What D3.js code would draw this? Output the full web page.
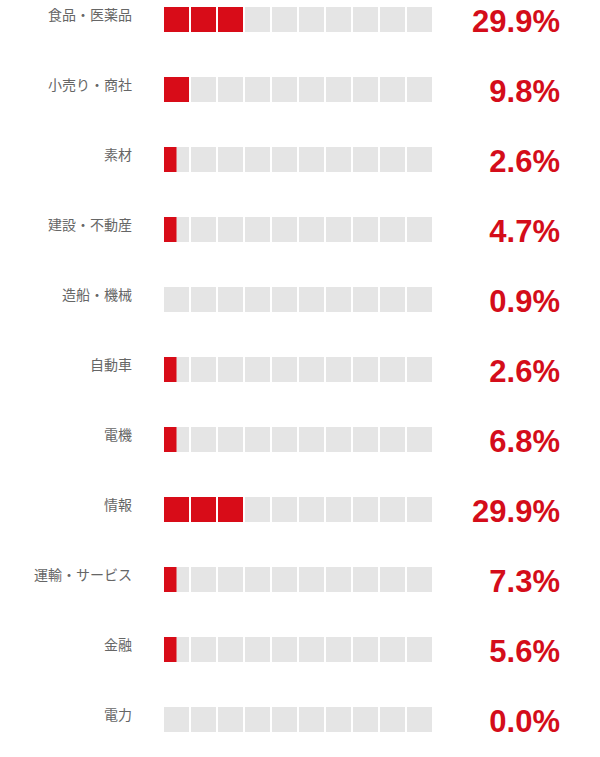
<!DOCTYPE html>
<html><head><meta charset="utf-8">
<script src="https://cdn.jsdelivr.net/npm/d3@7"></script>
<style>body{margin:0;background:#fff}svg{display:block}</style>
</head><body>
<script>
const categories = ["食品・医薬品","小売り・商社","素材","建設・不動産","造船・機械","自動車","電機","情報","運輸・サービス","金融","電力"];
const values = [29.9, 9.8, 2.6, 4.7, 0.9, 2.6, 6.8, 29.9, 7.3, 5.6, 0.0];
const cellCount = 10;   // each cell = 10%
const cellUnit = 10;

const W = 600, H = 757;
const svg = d3.select("body").append("svg").attr("width", W).attr("height", H);

const y = d3.scaleBand().domain(categories)
  .range([7, 7 + 70 * (categories.length - 1) + 25]).paddingInner(45/70).paddingOuter(0);
const x = d3.scaleBand().domain(d3.range(cellCount)).range([164, 432]).paddingInner(2/27).paddingOuter(0);

const rows = svg.selectAll("g.row").data(categories.map((c, i) => ({c, v: values[i]})))
  .enter().append("g").attr("class", "row")
  .attr("transform", d => `translate(0,${y(d.c)})`);

rows.each(function(d) {
  const g = d3.select(this);
  const filled = Math.round(d.v / (cellUnit / 2)) / 2; // in cells, half-cell steps
  d3.range(cellCount).forEach(k => {
    g.append("rect").attr("x", x(k)).attr("y", 0)
      .attr("width", x.bandwidth()).attr("height", y.bandwidth()).attr("fill", "#e5e5e5");
    const f = Math.max(0, Math.min(1, filled - k));
    if (f > 0) {
      g.append("rect").attr("x", x(k)).attr("y", 0)
        .attr("width", x.bandwidth() * f).attr("height", y.bandwidth()).attr("fill", "#d80c18");
    }
  });
  g.append("text").attr("x", 132).attr("y", 13)
    .attr("text-anchor", "end").attr("font-family", "'Noto Sans CJK JP', sans-serif")
    .attr("font-size", 14).attr("fill", "#666").text(d.c);
  g.append("text").attr("x", 560).attr("y", 25)
    .attr("text-anchor", "end").attr("font-family", "'Liberation Sans', Arial, sans-serif")
    .attr("font-weight", "bold").attr("font-size", 31).attr("fill", "#d40d1a")
    .text(d.v.toFixed(1) + "%");
});
</script>
</body></html>
